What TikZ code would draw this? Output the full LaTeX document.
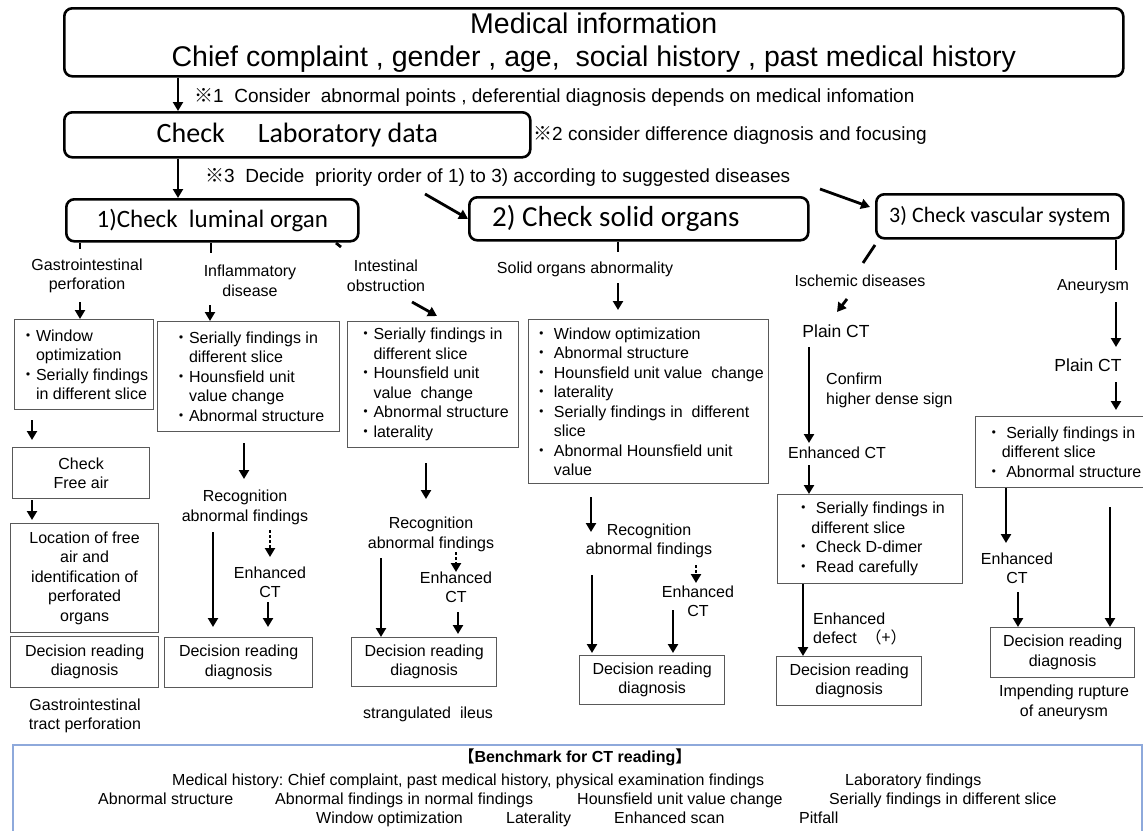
\documentclass[tikz,border=0pt]{standalone}
\usepackage{fontspec}
\setmainfont{Liberation Sans}
\newfontfamily\calfont{Carlito}
\newfontfamily\jpf{Noto Sans CJK JP}
\usetikzlibrary{arrows.meta}
\newcommand\fsz[2]{\fontsize{#1pt}{#2pt}\selectfont}
\newcommand\bul{{\jpf ・}}
\newcommand\ind{\hphantom{\bul}}
\definecolor{benchblue}{RGB}{142,169,219}
\frenchspacing
\begin{document}
\begin{tikzpicture}[x=1pt,y=-1pt,
  bigbox/.style={draw,line width=2.6pt,rounded corners=8pt,inner sep=0pt,align=center,anchor=north west},
  sbox/.style={draw=black!65,line width=1.2pt,inner sep=0pt,align=center,anchor=north west,font=\fsz{16}{19.5}},
  lbox/.style={sbox,align=left},
  txt/.style={inner sep=0pt,align=center,font=\fsz{16}{19.5}},
  note/.style={inner sep=0pt,anchor=base west,font=\fsz{19}{22}},
  btxt/.style={inner sep=0pt,anchor=base west,font=\fsz{16}{19}},
  arr/.style={line width=2.8pt,-{Triangle[width=10pt,length=9pt]}},
  darr/.style={arr,dash pattern=on 2.5pt off 2.5pt},
  tick/.style={line width=2.8pt}]
\useasboundingbox (0,0) rectangle (1143,830);

% ---- top part
\node[bigbox,minimum width=1059,minimum height=68,font=\fsz{28.5}{33}] (med) at (63,7)
  {Medical information\\Chief complaint , gender , age,\ \ social history , past medical history};
\node[bigbox,minimum width=466,minimum height=45,font=\calfont\fsz{28}{32}] (lab) at (63,111)
  {Check\hspace{33pt}Laboratory data};
\node[bigbox,minimum width=292,minimum height=42,font=\calfont\fsz{25}{28}] (o1) at (65,198)
  {1)Check\ \ luminal organ};
\node[bigbox,minimum width=339,minimum height=43,font=\calfont\fsz{29}{32}] (o2) at (468,196)
  {2) Check solid organs\hspace*{46pt}};
\node[bigbox,minimum width=247,minimum height=44,font=\calfont\fsz{22}{26}] (o3) at (875,193)
  {3) Check vascular system};

\node[note] (n1) at (194,102) {{\jpf ※}1\ \ Consider\ \ abnormal points , deferential diagnosis depends on medical infomation};
\node[note] (n2) at (533,140) {{\jpf ※}2 consider difference diagnosis and focusing};
\node[note] (n3) at (205,182) {{\jpf ※}3\ \ Decide\ \ priority order of 1) to 3) according to suggested diseases};

\draw[arr] (med.south -| 178,0) -- (lab.north -| 178,0);
\draw[arr] (lab.south -| 178,0) -- (o1.north -| 178,0);
\coordinate (d1) at (425,194);
\draw[arr] (d1) -- (o2.west);
\coordinate (d2s) at (820,189);
\coordinate (d2e) at (870,207);
\draw[arr] (d2s) -- (d2e);

% remnants under the organ boxes
\draw[tick] (80,243) -- (80,249);
\draw[tick] (o1.south -| 211,0) -- (211,253);
\draw[tick] (336,243) -- (341,247);
\draw[tick] (o2.south -| 618,0) -- (618,252);
\draw[tick] (875,245) -- (863,263);
\draw[tick] (o3.south -| 1116,0) -- (1116,270);

% ---- column 1
\node[txt] (gi) at (87,276) {Gastrointestinal\\perforation};
\node[lbox,minimum width=139,minimum height=90] (b1) at (14,319)
  {\bul Window\\\ind optimization\\\bul Serially findings\\\ind in different slice};
\node[sbox,minimum width=137,minimum height=51] (fa) at (12,447) {Check\\Free air};
\node[sbox,minimum width=148,minimum height=109] (loc) at (10,523)
  {Location of free\\air and\\identification of\\perforated\\organs};
\node[sbox,minimum width=148,minimum height=51] (dec1) at (10,636) {Decision reading\\diagnosis};
\node[txt] (gitp) at (85,716) {Gastrointestinal\\tract perforation};
\coordinate (g1) at (80,302);
\draw[arr] (g1) -- (b1.north -| g1);
\coordinate (g2s) at (32,420); \coordinate (g2e) at (32,440);
\draw[arr] (g2s) -- (g2e);
\coordinate (g3s) at (32,500); \coordinate (g3e) at (32,520);
\draw[arr] (g3s) -- (g3e);

% ---- column 2
\node[txt] (infl) at (250,281) {Inflammatory\\disease};
\node[lbox,minimum width=182,minimum height=110] (b2) at (157,321)
  {\bul Serially findings in\\\ind different slice\\\bul Hounsfield unit\\\ind value change\\\bul Abnormal structure};
\node[txt] (rec2) at (245,507.5) {Recognition\\abnormal findings};
\node[txt] (enh2) at (270,582.5) {Enhanced\\CT};
\node[sbox,minimum width=148,minimum height=50] (dec2) at (164,637) {Decision reading\\diagnosis};
\coordinate (i1) at (210,305);
\draw[arr] (i1) -- (b2.north -| i1);
\coordinate (i2s) at (244,443); \coordinate (i2e) at (244,479);
\draw[arr] (i2s) -- (i2e);
\coordinate (i3s) at (213,532); \coordinate (i3e) at (213,627);
\draw[arr] (i3s) -- (i3e);
\coordinate (i4s) at (270,530); \coordinate (i4e) at (270,557);
\draw[darr] (i4s) -- (i4e);
\coordinate (i5s) at (268,602); \coordinate (i5e) at (268,627);
\draw[arr] (i5s) -- (i5e);

% ---- column 3
\node[txt] (intest) at (386,276) {Intestinal\\obstruction};
\node[lbox,minimum width=171,minimum height=126] (b3) at (347,321)
  {\bul Serially findings in\\\ind different slice\\\bul Hounsfield unit\\\ind value\ \ change\\\bul Abnormal structure\\\bul laterality};
\node[txt] (rec3) at (431,534.5) {Recognition\\abnormal findings};
\node[txt] (enh3) at (456,587.5) {Enhanced\\CT};
\node[sbox,minimum width=145,minimum height=49] (dec3) at (351,637) {Decision reading\\diagnosis};
\node[txt] (strang) at (428,714) {strangulated\ \ ileus};
\coordinate (o1s) at (412,302); \coordinate (o1e) at (437,316);
\draw[arr] (o1s) -- (o1e);
\coordinate (o2s) at (426,463); \coordinate (o2e) at (426,499);
\draw[arr] (o2s) -- (o2e);
\coordinate (o3s) at (381,558);
\draw[arr] (o3s) -- (dec3.north -| o3s);
\coordinate (o4s) at (456,552); \coordinate (o4e) at (456,572);
\draw[darr] (o4s) -- (o4e);
\coordinate (o5s) at (458,612); \coordinate (o5e) at (458,634);
\draw[arr] (o5s) -- (o5e);

% ---- column 4
\node[txt] (solid) at (585,269) {Solid organs abnormality};
\node[lbox,minimum width=240,minimum height=164] (b4) at (528,319)
  {\bul\ Window optimization\\\bul\ Abnormal structure\\\bul\ Hounsfield unit value\ \ change\\\bul\ laterality\\\bul\ Serially findings in\ \ different\\\ind\ slice\\\bul\ Abnormal Hounsfield unit\\\ind\ value};
\node[txt] (rec4) at (649,541) {Recognition\\abnormal findings};
\node[txt] (enh4) at (698,601.5) {Enhanced\\CT};
\node[sbox,minimum width=145,minimum height=49] (dec4) at (579,655) {Decision reading\\diagnosis};
\coordinate (s1s) at (618,283); \coordinate (s1e) at (618,310);
\draw[arr] (s1s) -- (s1e);
\coordinate (s2s) at (591,497); \coordinate (s2e) at (591,532);
\draw[arr] (s2s) -- (s2e);
\coordinate (s3s) at (592,575); \coordinate (s3e) at (592,653);
\draw[arr] (s3s) -- (s3e);
\coordinate (s4s) at (696,565); \coordinate (s4e) at (696,583);
\draw[darr] (s4s) -- (s4e);
\coordinate (s5s) at (673,610); \coordinate (s5e) at (673,653);
\draw[arr] (s5s) -- (s5e);

% ---- column 5
\node[txt] (isch) at (860,281) {Ischemic diseases};
\node[txt,font=\fsz{17.5}{21}] (pl5) at (836,331) {Plain CT};
\node[txt,align=left,anchor=west] (conf) at (826,390.5) {Confirm\\higher dense sign};
\node[txt] (ect5) at (837,453) {Enhanced CT};
\node[lbox,minimum width=185,minimum height=89] (b5) at (777,494)
  {\bul\ Serially findings in\\\ind different slice\\\bul\ Check D-dimer\\\bul\ Read carefully};
\node[txt,align=left,anchor=west] (def) at (813,629) {Enhanced\\defect\ \ {\jpf （+）}};
\node[sbox,minimum width=145,minimum height=49] (dec5) at (776,656) {Decision reading\\diagnosis};
\coordinate (v1s) at (847,299); \coordinate (v1e) at (837,312);
\draw[arr] (v1s) -- (v1e);
\coordinate (v2s) at (809,347); \coordinate (v2e) at (809,443);
\draw[arr] (v2s) -- (v2e);
\coordinate (v3s) at (809,465);
\draw[arr] (v3s) -- (b5.north -| v3s);
\coordinate (v4) at (803,0);
\draw[arr] (b5.south -| v4) -- (dec5.north -| v4);

% ---- column 6
\node[txt] (aneu) at (1093,287) {Aneurysm};
\node[txt,font=\fsz{17.5}{21}] (pl6) at (1088,365) {Plain CT};
\node[lbox,minimum width=176,minimum height=71] (b6) at (975,416)
  {\bul\ Serially findings in\\\ind different slice\\\bul\ Abnormal structure};
\node[txt] (enh6) at (1017,568.5) {Enhanced\\CT};
\node[sbox,minimum width=144,minimum height=50] (dec6) at (990,627) {Decision reading\\diagnosis};
\node[txt] (imp) at (1064,702.5) {Impending rupture\\of aneurysm};
\coordinate (w1s) at (1116,302); \coordinate (w1e) at (1116,347);
\draw[arr] (w1s) -- (w1e);
\coordinate (w2s) at (1116,382); \coordinate (w2e) at (1116,410);
\draw[arr] (w2s) -- (w2e);
\coordinate (w3) at (1006,543);
\draw[arr] (b6.south -| w3) -- (w3);
\coordinate (w4) at (1018,592);
\draw[arr] (w4) -- (dec6.north -| w4);
\coordinate (w5) at (1110,507);
\draw[arr] (w5) -- (dec6.north -| w5);

% ---- benchmark box
\node[draw=benchblue,line width=1.5pt,minimum width=1129,minimum height=90,anchor=north west,inner sep=0pt] (bm) at (12,744) {};
\node[inner sep=0pt,anchor=base,font=\bfseries\fsz{16}{19}] (bt) at (575,762) {{\jpf 【}Benchmark for CT reading{\jpf 】}};
\node[btxt] (m1) at (172,785) {Medical history: Chief complaint, past medical history, physical examination findings};
\node[btxt] (m2) at (845,785) {Laboratory findings};
\node[btxt] (m3) at (98,804) {Abnormal structure};
\node[btxt] (m4) at (275,804) {Abnormal findings in normal findings};
\node[btxt] (m5) at (577,804) {Hounsfield unit value change};
\node[btxt] (m6) at (829,804) {Serially findings in different slice};
\node[btxt] (m7) at (316,823) {Window optimization};
\node[btxt] (m8) at (506,823) {Laterality};
\node[btxt] (m9) at (614,823) {Enhanced scan};
\node[btxt] (m10) at (799,823) {Pitfall};
\end{tikzpicture}
\end{document}
